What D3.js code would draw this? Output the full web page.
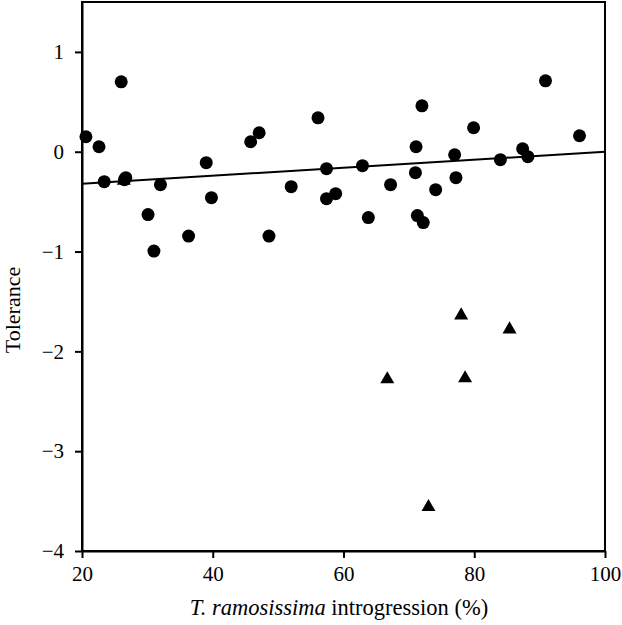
<!DOCTYPE html>
<html>
<head>
<meta charset="utf-8">
<script src="https://cdn.jsdelivr.net/npm/d3@7"></script>
<style>
  body { margin: 0; background: #fff; }
  svg { display: block; }
  text { font-family: "Liberation Serif", "Times New Roman", serif; fill: #000; }
</style>
</head>
<body>
<svg id="chart" width="622" height="625"></svg>
<script>
// Circles (main group)
const circleX = [20.6, 22.6, 23.4, 26.0, 26.7, 26.5, 30.1, 31.0, 32.0, 36.3, 39.0, 39.8, 45.8, 47.1, 48.6, 52.0, 56.1, 57.4, 57.4, 58.8,
                 62.9, 63.8, 67.2, 71.1, 71.0, 71.3, 72.2, 72.0, 74.1, 77.0, 77.2, 79.9, 84.0, 87.4, 88.2, 90.9, 96.1];
const circleY = [0.15, 0.05, -0.30, 0.70, -0.26, -0.28, -0.63, -0.995, -0.33, -0.845, -0.11, -0.46, 0.10, 0.19, -0.845, -0.35, 0.34, -0.17, -0.47, -0.42,
                 -0.14, -0.66, -0.33, 0.05, -0.21, -0.64, -0.71, 0.46, -0.38, -0.03, -0.26, 0.24, -0.08, 0.03, -0.05, 0.71, 0.16];
// Triangles (outliers)
const triX = [26.4, 78.0, 85.4, 66.7, 78.6, 73.0];
const triY = [-0.29, -1.64, -1.78, -2.28, -2.27, -3.56];
// Regression line endpoints
const lineX = [20, 100];
const lineY = [-0.32, 0.0];
// Ticks
const xTicks = [20, 40, 60, 80, 100];
const yTicks = [1, 0, -1, -2, -3, -4];

const svg = d3.select("#chart");
const x = d3.scaleLinear().domain([20, 100]).range([82, 605]);
const y = d3.scaleLinear().domain([-4, 1.5]).range([551, 2]);

// frame
svg.append("rect").attr("x", 82).attr("y", 2).attr("width", 605 - 82).attr("height", 551 - 2)
  .attr("fill", "none").attr("stroke", "#000").attr("stroke-width", 2);

const fmt = d => (d < 0 ? "\u2212" + Math.abs(d) : String(d));

const xAxis = svg.append("g").attr("transform", "translate(0,551)")
  .call(d3.axisBottom(x).tickValues(xTicks).tickSize(7).tickSizeOuter(0).tickPadding(8).tickFormat(fmt));
const yAxis = svg.append("g").attr("transform", "translate(82,0)")
  .call(d3.axisLeft(y).tickValues(yTicks).tickSize(7).tickSizeOuter(0).tickPadding(11).tickFormat(fmt));
[xAxis, yAxis].forEach(g => {
  g.select(".domain").attr("stroke", "#000").attr("stroke-width", 2);
  g.selectAll(".tick line").attr("stroke", "#000").attr("stroke-width", 2);
  g.selectAll(".tick text").attr("font-family", "Liberation Serif, serif").attr("font-size", 21).attr("fill", "#000");
});

// regression line
svg.append("line")
  .attr("x1", x(lineX[0])).attr("y1", y(lineY[0]))
  .attr("x2", x(lineX[1])).attr("y2", y(lineY[1]))
  .attr("stroke", "#000").attr("stroke-width", 2);

// triangles
const tri = d3.symbol().type(d3.symbolTriangle).size(85);
svg.append("g").selectAll("path").data(triX.map((v, i) => [v, triY[i]])).join("path")
  .attr("d", tri)
  .attr("transform", d => `translate(${x(d[0])},${y(d[1])})`)
  .attr("fill", "#000");

// circles
svg.append("g").selectAll("circle").data(circleX.map((v, i) => [v, circleY[i]])).join("circle")
  .attr("cx", d => x(d[0])).attr("cy", d => y(d[1])).attr("r", 6.5).attr("fill", "#000");

// axis titles
svg.append("text").attr("transform", "translate(20,310) rotate(-90)")
  .attr("text-anchor", "middle").attr("font-size", 22).text("Tolerance");
const xt = svg.append("text").attr("x", 339).attr("y", 615).attr("text-anchor", "middle").attr("font-size", 22.5);
xt.append("tspan").attr("font-style", "italic").text("T. ramosissima");
xt.append("tspan").text(" introgression (%)");
</script>
</body>
</html>
